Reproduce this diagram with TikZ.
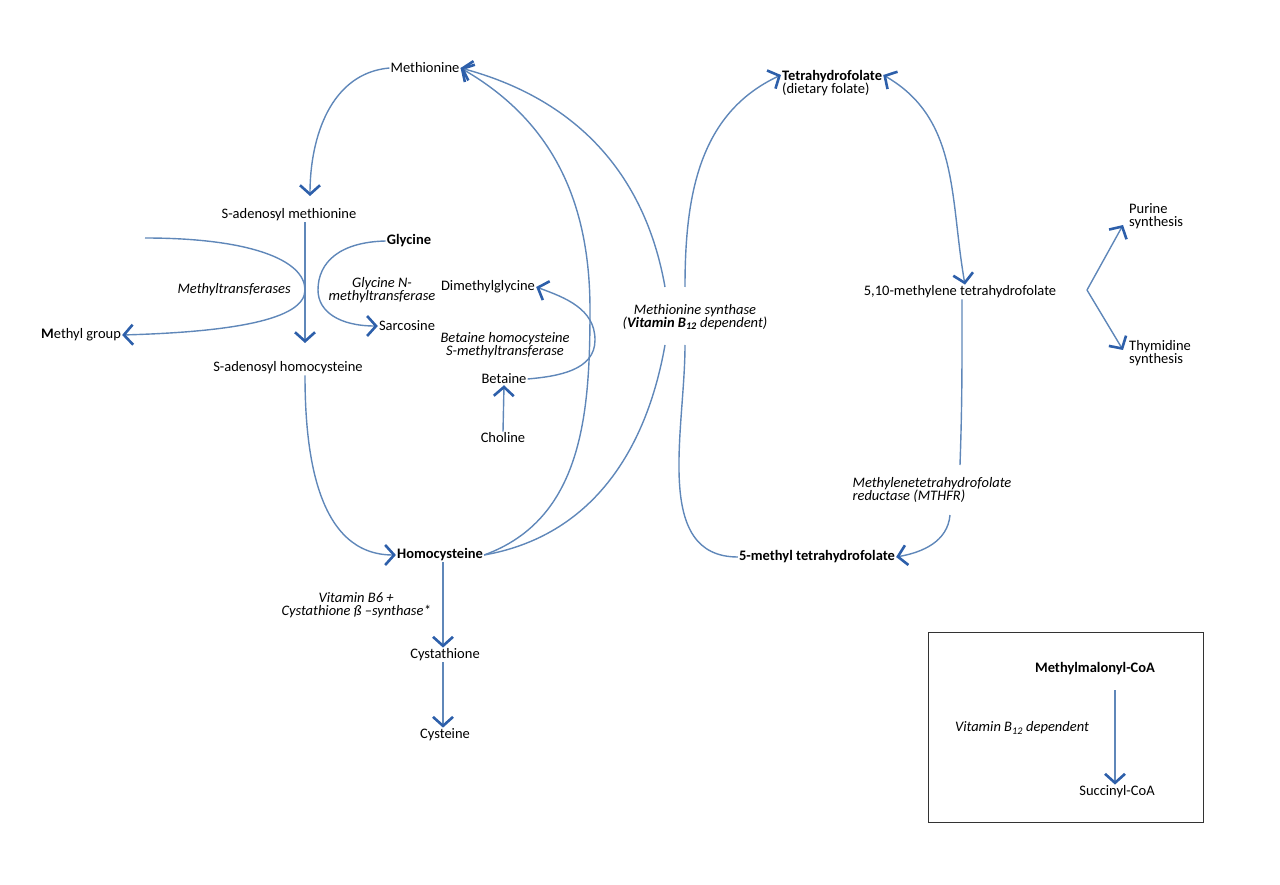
\documentclass[tikz,border=0pt]{standalone}
\usepackage{fontspec}
\setmainfont{Carlito}
\usetikzlibrary{arrows.meta}
\definecolor{pathblue}{RGB}{95,135,185}
\definecolor{tipblue}{RGB}{45,95,170}
\tikzset{
  flow/.style={draw=pathblue, line width=1.4pt},
  barb/.tip={Straight Barb[length=9pt,width=20pt,line width=2.6pt,color=tipblue]},
  tip/.style={-barb},
  lbl/.style={inner sep=1pt, font=\fontsize{14.5}{16.5}\selectfont},
  enz/.style={lbl, font=\fontsize{14.5}{16.5}\selectfont\itshape, align=center},
}
\begin{document}
\begin{tikzpicture}[x=1pt,y=-1pt]
  \useasboundingbox (0,0) rectangle (1280,885);

  % methionine cycle
  \node[lbl] (met) at (425,68) {Methionine};
  \node[lbl] (sam) at (289,215) {S-adenosyl methionine};
  \node[lbl] (sah) at (288,368) {S-adenosyl homocysteine};
  \node[lbl] (hcy) at (440,555) {\textbf{Homocysteine}};
  \node[lbl] (gly) at (409,241) {\textbf{Glycine}};
  \node[lbl] (sar) at (407,326) {Sarcosine};
  \node[lbl, anchor=west] (mgr) at (40,335) {\textbf{M}ethyl group};
  \node[enz, anchor=east] (mtr) at (292,290) {Methyltransferases};
  \node[enz] (gnm) at (382,290) {Glycine N-\\[-3pt]methyltransferase};
  \node[lbl] (dmg) at (488,287) {Dimethylglycine};
  \node[enz] (bhm) at (505,345) {Betaine homocysteine\\[-3pt]S-methyltransferase};
  \node[lbl] (bet) at (504,379) {Betaine};
  \node[lbl] (cho) at (503,438) {Choline};
  \node[enz] (ms) at (695,317) {Methionine synthase\\[-3pt](\textbf{Vitamin B\textsubscript{12}} dependent)};
  \node[lbl] (cth) at (445,655) {Cystathione};
  \node[lbl] (cys) at (445,735) {Cysteine};
  \node[enz, anchor=east] (cbs) at (432,605) {Vitamin B6 +\\[-3pt]Cystathione ß --synthase*};
  \coordinate (mcross) at (145,238);

  % folate cycle
  \node[lbl, anchor=west, align=left] (thf) at (781,83) {\textbf{Tetrahydrofolate}\\[-3pt](dietary folate)};
  \node[lbl] (mthf) at (960,292) {5,10-methylene tetrahydrofolate};
  \node[lbl] (five) at (817,557) {\textbf{5-methyl tetrahydrofolate}};
  \node[enz, align=left] (mthfr) at (932,490) {Methylenetetrahydrofolate\\[-3pt]reductase (MTHFR)};
  \node[lbl, align=left, anchor=west] (pur) at (1128,216) {Purine\\[-3pt]synthesis};
  \node[lbl, align=left, anchor=west] (thy) at (1128,353) {Thymidine\\[-3pt]synthesis};
  \coordinate (fork) at (1087,290);

  % methionine cycle connectors
  \draw[flow, tip] (met.west) to[out=185, in=90] (310,196);
  \draw[flow, tip] (sam.south -| 305,0) -- (305,343);
  \draw[flow, tip] (sah.south -| 305,0) to[out=-90, in=180] (hcy.west);
  \draw[flow, tip] (mcross) .. controls (250,238) and (305,260) .. (305,290)
    .. controls (305,320) and (230,332) .. (mgr.east);
  \draw[flow, tip] (gly.west) .. controls (340,242) and (318,262) .. (318,290)
    .. controls (318,312) and (340,326) .. (sar.west);
  \draw[flow, tip] (hcy.east) to[out=20, in=-90] (590,310) to[out=90, in=-30] (met.east);
  \draw[flow] (hcy.east) to[out=10, in=-100] (665,345);
  \draw[flow, tip] (665,287) to[out=100, in=-15] (met.east);
  \draw[flow, tip] (bet.east) to[out=5, in=-90] (595,340) to[out=90, in=-20] (dmg.east);
  \draw[flow, tip] (cho.north) -- (bet.south);
  \draw[flow, tip] (hcy.south -| 443,0) -- (cth.north -| 443,0);
  \draw[flow, tip] (cth.south -| 443,0) -- (cys.north -| 443,0);

  % folate cycle connectors
  \draw[flow, tip] (685,287) to[out=90, in=205] (thf.north west |- 0,75);
  \draw[flow] (685,345) to[out=-90, in=180] (five.west);
  \draw[flow, barb-barb] (thf.north east |- 0,75) to[out=-30, in=100] (mthf.north -| 965,0);
  \draw[flow] (mthf.south -| 962,0) to[out=-90, in=88] (960,465);
  \draw[flow, tip] (950,515) to[out=-95, in=10] (five.east);
  \draw[flow, tip] (fork) -- (1123,225);
  \draw[flow, tip] (fork) -- (1123,350);

  % vitamin B12 box
  \draw[black!80, line width=1pt] (928,632) rectangle (1203,822);
  \node[lbl] (mmc) at (1095,669) {\textbf{Methylmalonyl-CoA}};
  \node[lbl] (suc) at (1117,792) {Succinyl-CoA};
  \node[enz] (vb) at (1022,728) {Vitamin B\textsubscript{12} dependent};
  \draw[flow, tip] (1115,690) -- (suc.north -| 1115,0);
\end{tikzpicture}
\end{document}
